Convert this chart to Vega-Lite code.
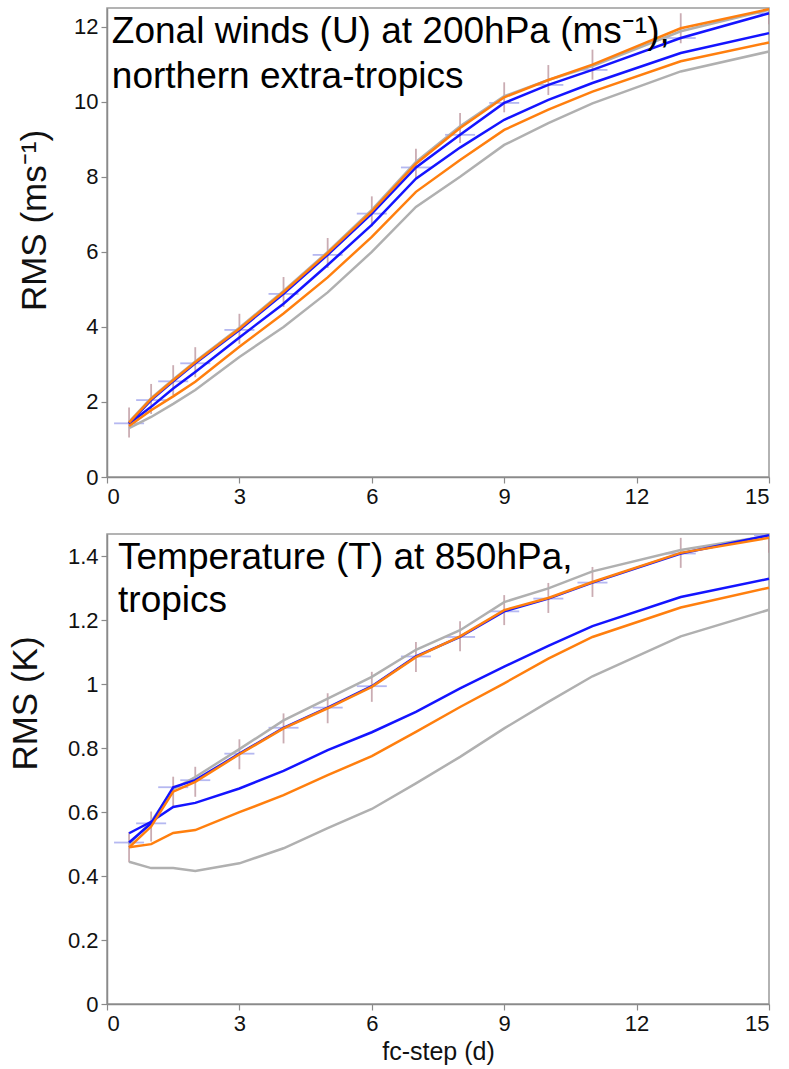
{
 "$schema": "https://vega.github.io/schema/vega-lite/v6.json",
 "background": "white",
 "padding": {"left": 7, "top": 3, "right": 5, "bottom": 4},
 "config": {
  "font": "Liberation Sans",
  "view": {"stroke": "#9a9a9a", "strokeWidth": 1.5},
  "axis": {"grid": false, "domainColor": "#8a8a8a", "domainWidth": 1.5, "tickColor": "#8a8a8a", "tickWidth": 1.2, "tickSize": 6, "labelFontSize": 22, "labelColor": "#111", "labelPadding": 3, "titleFontWeight": "normal", "titleColor": "#111"}
 },
 "spacing": 21,
 "datasets": {
  "u200": [
   {"x":0.5,"run":"ctl","band":"hi","v":1.47},{"x":1,"run":"ctl","band":"hi","v":2.10},{"x":1.5,"run":"ctl","band":"hi","v":2.60},{"x":2,"run":"ctl","band":"hi","v":3.08},{"x":3,"run":"ctl","band":"hi","v":3.98},{"x":4,"run":"ctl","band":"hi","v":4.96},{"x":5,"run":"ctl","band":"hi","v":6.00},{"x":6,"run":"ctl","band":"hi","v":7.12},{"x":7,"run":"ctl","band":"hi","v":8.40},{"x":8,"run":"ctl","band":"hi","v":9.35},{"x":9,"run":"ctl","band":"hi","v":10.15},{"x":10,"run":"ctl","band":"hi","v":10.58},{"x":11,"run":"ctl","band":"hi","v":10.95},{"x":13,"run":"ctl","band":"hi","v":11.88},{"x":15,"run":"ctl","band":"hi","v":12.45},
   {"x":0.5,"run":"ctl","band":"lo","v":1.30},{"x":1,"run":"ctl","band":"lo","v":1.60},{"x":1.5,"run":"ctl","band":"lo","v":1.95},{"x":2,"run":"ctl","band":"lo","v":2.32},{"x":3,"run":"ctl","band":"lo","v":3.20},{"x":4,"run":"ctl","band":"lo","v":4.00},{"x":5,"run":"ctl","band":"lo","v":4.92},{"x":6,"run":"ctl","band":"lo","v":6.00},{"x":7,"run":"ctl","band":"lo","v":7.20},{"x":8,"run":"ctl","band":"lo","v":8.00},{"x":9,"run":"ctl","band":"lo","v":8.85},{"x":10,"run":"ctl","band":"lo","v":9.43},{"x":11,"run":"ctl","band":"lo","v":9.96},{"x":13,"run":"ctl","band":"lo","v":10.81},{"x":15,"run":"ctl","band":"lo","v":11.34},
   {"x":0.5,"run":"a","band":"hi","v":1.43},{"x":1,"run":"a","band":"hi","v":2.05},{"x":1.5,"run":"a","band":"hi","v":2.55},{"x":2,"run":"a","band":"hi","v":3.03},{"x":3,"run":"a","band":"hi","v":3.92},{"x":4,"run":"a","band":"hi","v":4.88},{"x":5,"run":"a","band":"hi","v":5.92},{"x":6,"run":"a","band":"hi","v":7.02},{"x":7,"run":"a","band":"hi","v":8.25},{"x":8,"run":"a","band":"hi","v":9.12},{"x":9,"run":"a","band":"hi","v":9.97},{"x":10,"run":"a","band":"hi","v":10.45},{"x":11,"run":"a","band":"hi","v":10.85},{"x":13,"run":"a","band":"hi","v":11.70},{"x":15,"run":"a","band":"hi","v":12.36},
   {"x":0.5,"run":"a","band":"lo","v":1.42},{"x":1,"run":"a","band":"lo","v":1.87},{"x":1.5,"run":"a","band":"lo","v":2.36},{"x":2,"run":"a","band":"lo","v":2.80},{"x":3,"run":"a","band":"lo","v":3.72},{"x":4,"run":"a","band":"lo","v":4.62},{"x":5,"run":"a","band":"lo","v":5.65},{"x":6,"run":"a","band":"lo","v":6.72},{"x":7,"run":"a","band":"lo","v":7.95},{"x":8,"run":"a","band":"lo","v":8.78},{"x":9,"run":"a","band":"lo","v":9.52},{"x":10,"run":"a","band":"lo","v":10.05},{"x":11,"run":"a","band":"lo","v":10.50},{"x":13,"run":"a","band":"lo","v":11.30},{"x":15,"run":"a","band":"lo","v":11.83},
   {"x":0.5,"run":"b","band":"hi","v":1.45},{"x":1,"run":"b","band":"hi","v":2.08},{"x":1.5,"run":"b","band":"hi","v":2.58},{"x":2,"run":"b","band":"hi","v":3.06},{"x":3,"run":"b","band":"hi","v":3.95},{"x":4,"run":"b","band":"hi","v":4.93},{"x":5,"run":"b","band":"hi","v":5.97},{"x":6,"run":"b","band":"hi","v":7.08},{"x":7,"run":"b","band":"hi","v":8.35},{"x":8,"run":"b","band":"hi","v":9.30},{"x":9,"run":"b","band":"hi","v":10.12},{"x":10,"run":"b","band":"hi","v":10.58},{"x":11,"run":"b","band":"hi","v":10.99},{"x":13,"run":"b","band":"hi","v":11.96},{"x":15,"run":"b","band":"hi","v":12.47},
   {"x":0.5,"run":"b","band":"lo","v":1.36},{"x":1,"run":"b","band":"lo","v":1.78},{"x":1.5,"run":"b","band":"lo","v":2.15},{"x":2,"run":"b","band":"lo","v":2.54},{"x":3,"run":"b","band":"lo","v":3.47},{"x":4,"run":"b","band":"lo","v":4.36},{"x":5,"run":"b","band":"lo","v":5.32},{"x":6,"run":"b","band":"lo","v":6.40},{"x":7,"run":"b","band":"lo","v":7.60},{"x":8,"run":"b","band":"lo","v":8.45},{"x":9,"run":"b","band":"lo","v":9.25},{"x":10,"run":"b","band":"lo","v":9.79},{"x":11,"run":"b","band":"lo","v":10.27},{"x":13,"run":"b","band":"lo","v":11.08},{"x":15,"run":"b","band":"lo","v":11.58}
  ],
  "t850": [
   {"x":0.5,"run":"ctl","band":"hi","v":0.500},{"x":1,"run":"ctl","band":"hi","v":0.570},{"x":1.5,"run":"ctl","band":"hi","v":0.672},{"x":2,"run":"ctl","band":"hi","v":0.710},{"x":3,"run":"ctl","band":"hi","v":0.797},{"x":4,"run":"ctl","band":"hi","v":0.887},{"x":5,"run":"ctl","band":"hi","v":0.955},{"x":6,"run":"ctl","band":"hi","v":1.023},{"x":7,"run":"ctl","band":"hi","v":1.108},{"x":8,"run":"ctl","band":"hi","v":1.169},{"x":9,"run":"ctl","band":"hi","v":1.257},{"x":10,"run":"ctl","band":"hi","v":1.300},{"x":11,"run":"ctl","band":"hi","v":1.353},{"x":13,"run":"ctl","band":"hi","v":1.420},{"x":15,"run":"ctl","band":"hi","v":1.465},
   {"x":0.5,"run":"ctl","band":"lo","v":0.445},{"x":1,"run":"ctl","band":"lo","v":0.425},{"x":1.5,"run":"ctl","band":"lo","v":0.425},{"x":2,"run":"ctl","band":"lo","v":0.416},{"x":3,"run":"ctl","band":"lo","v":0.440},{"x":4,"run":"ctl","band":"lo","v":0.487},{"x":5,"run":"ctl","band":"lo","v":0.550},{"x":6,"run":"ctl","band":"lo","v":0.610},{"x":7,"run":"ctl","band":"lo","v":0.690},{"x":8,"run":"ctl","band":"lo","v":0.773},{"x":9,"run":"ctl","band":"lo","v":0.862},{"x":10,"run":"ctl","band":"lo","v":0.945},{"x":11,"run":"ctl","band":"lo","v":1.025},{"x":13,"run":"ctl","band":"lo","v":1.150},{"x":15,"run":"ctl","band":"lo","v":1.233},
   {"x":0.5,"run":"a","band":"hi","v":0.505},{"x":1,"run":"a","band":"hi","v":0.565},{"x":1.5,"run":"a","band":"hi","v":0.678},{"x":2,"run":"a","band":"hi","v":0.700},{"x":3,"run":"a","band":"hi","v":0.783},{"x":4,"run":"a","band":"hi","v":0.864},{"x":5,"run":"a","band":"hi","v":0.927},{"x":6,"run":"a","band":"hi","v":0.994},{"x":7,"run":"a","band":"hi","v":1.087},{"x":8,"run":"a","band":"hi","v":1.148},{"x":9,"run":"a","band":"hi","v":1.228},{"x":10,"run":"a","band":"hi","v":1.268},{"x":11,"run":"a","band":"hi","v":1.318},{"x":13,"run":"a","band":"hi","v":1.409},{"x":15,"run":"a","band":"hi","v":1.466},
   {"x":0.5,"run":"a","band":"lo","v":0.534},{"x":1,"run":"a","band":"lo","v":0.570},{"x":1.5,"run":"a","band":"lo","v":0.616},{"x":2,"run":"a","band":"lo","v":0.629},{"x":3,"run":"a","band":"lo","v":0.674},{"x":4,"run":"a","band":"lo","v":0.729},{"x":5,"run":"a","band":"lo","v":0.794},{"x":6,"run":"a","band":"lo","v":0.850},{"x":7,"run":"a","band":"lo","v":0.914},{"x":8,"run":"a","band":"lo","v":0.987},{"x":9,"run":"a","band":"lo","v":1.055},{"x":10,"run":"a","band":"lo","v":1.120},{"x":11,"run":"a","band":"lo","v":1.182},{"x":13,"run":"a","band":"lo","v":1.273},{"x":15,"run":"a","band":"lo","v":1.330},
   {"x":0.5,"run":"b","band":"hi","v":0.490},{"x":1,"run":"b","band":"hi","v":0.555},{"x":1.5,"run":"b","band":"hi","v":0.664},{"x":2,"run":"b","band":"hi","v":0.695},{"x":3,"run":"b","band":"hi","v":0.781},{"x":4,"run":"b","band":"hi","v":0.862},{"x":5,"run":"b","band":"hi","v":0.925},{"x":6,"run":"b","band":"hi","v":0.992},{"x":7,"run":"b","band":"hi","v":1.085},{"x":8,"run":"b","band":"hi","v":1.150},{"x":9,"run":"b","band":"hi","v":1.232},{"x":10,"run":"b","band":"hi","v":1.270},{"x":11,"run":"b","band":"hi","v":1.320},{"x":13,"run":"b","band":"hi","v":1.411},{"x":15,"run":"b","band":"hi","v":1.458},
   {"x":0.5,"run":"b","band":"lo","v":0.490},{"x":1,"run":"b","band":"lo","v":0.500},{"x":1.5,"run":"b","band":"lo","v":0.535},{"x":2,"run":"b","band":"lo","v":0.544},{"x":3,"run":"b","band":"lo","v":0.600},{"x":4,"run":"b","band":"lo","v":0.653},{"x":5,"run":"b","band":"lo","v":0.716},{"x":6,"run":"b","band":"lo","v":0.775},{"x":7,"run":"b","band":"lo","v":0.851},{"x":8,"run":"b","band":"lo","v":0.929},{"x":9,"run":"b","band":"lo","v":1.003},{"x":10,"run":"b","band":"lo","v":1.080},{"x":11,"run":"b","band":"lo","v":1.148},{"x":13,"run":"b","band":"lo","v":1.240},{"x":15,"run":"b","band":"lo","v":1.302}
  ]
 },
 "vconcat": [
  {
   "width": 662, "height": 469,
   "layer": [
    {"data": {"name": "u200"}, "transform": [{"filter": "datum.run === 'a' && datum.band === 'hi'"}], "mark": {"type": "point", "shape": "M-1,0H1", "size": 900, "filled": false, "strokeWidth": 1.8, "color": "#a3a7ee", "opacity": 0.8, "clip": true},
     "encoding": {
      "x": {"field": "x", "type": "quantitative", "scale": {"domain": [0, 15], "nice": false}, "axis": {"values": [0, 3, 6, 9, 12, 15], "title": null}},
      "y": {"field": "v", "type": "quantitative", "scale": {"domain": [0, 12.5], "nice": false}, "axis": {"values": [0, 2, 4, 6, 8, 10, 12], "title": "RMS (ms⁻¹)", "titleFontSize": 35, "titlePadding": 21, "titleY": 212}}
     }},
    {"data": {"name": "u200"}, "transform": [{"filter": "datum.run === 'b' && datum.band === 'hi'"}], "mark": {"type": "point", "shape": "M0,-1V1", "size": 900, "filled": false, "strokeWidth": 1.8, "color": "#b58a93", "opacity": 0.7, "clip": true},
     "encoding": {
      "x": {"field": "x", "type": "quantitative", "scale": {"domain": [0, 15], "nice": false}, "axis": {"values": [0, 3, 6, 9, 12, 15], "title": null}},
      "y": {"field": "v", "type": "quantitative", "scale": {"domain": [0, 12.5], "nice": false}, "axis": {"values": [0, 2, 4, 6, 8, 10, 12], "title": "RMS (ms⁻¹)", "titleFontSize": 35, "titlePadding": 21, "titleY": 212}}
     }},
    {"data": {"name": "u200"}, "transform": [{"filter": "datum.run === 'ctl'"}], "mark": {"type": "line", "color": "#b0b0b0", "strokeWidth": 2.5},
     "encoding": {
      "x": {"field": "x", "type": "quantitative", "scale": {"domain": [0, 15], "nice": false}, "axis": {"values": [0, 3, 6, 9, 12, 15], "title": null}},
      "y": {"field": "v", "type": "quantitative", "scale": {"domain": [0, 12.5], "nice": false}, "axis": {"values": [0, 2, 4, 6, 8, 10, 12], "title": "RMS (ms⁻¹)", "titleFontSize": 35, "titlePadding": 21, "titleY": 212}},
      "detail": {"field": "band"}
     }},
    {"data": {"name": "u200"}, "transform": [{"filter": "datum.run === 'a'"}], "mark": {"type": "line", "color": "#1414ff", "strokeWidth": 2.5},
     "encoding": {
      "x": {"field": "x", "type": "quantitative", "scale": {"domain": [0, 15], "nice": false}, "axis": {"values": [0, 3, 6, 9, 12, 15], "title": null}},
      "y": {"field": "v", "type": "quantitative", "scale": {"domain": [0, 12.5], "nice": false}, "axis": {"values": [0, 2, 4, 6, 8, 10, 12], "title": "RMS (ms⁻¹)", "titleFontSize": 35, "titlePadding": 21, "titleY": 212}},
      "detail": {"field": "band"}
     }},
    {"data": {"name": "u200"}, "transform": [{"filter": "datum.run === 'b'"}], "mark": {"type": "line", "color": "#ff7f0e", "strokeWidth": 2.5},
     "encoding": {
      "x": {"field": "x", "type": "quantitative", "scale": {"domain": [0, 15], "nice": false}, "axis": {"values": [0, 3, 6, 9, 12, 15], "title": null}},
      "y": {"field": "v", "type": "quantitative", "scale": {"domain": [0, 12.5], "nice": false}, "axis": {"values": [0, 2, 4, 6, 8, 10, 12], "title": "RMS (ms⁻¹)", "titleFontSize": 35, "titlePadding": 21, "titleY": 212}},
      "detail": {"field": "band"}
     }},
    {"data": {"values": [{"label": "Zonal winds (U) at 200hPa (ms⁻¹),\nnorthern extra-tropics"}]}, "mark": {"type": "text", "align": "left", "baseline": "alphabetic", "fontSize": 37, "lineHeight": 45, "lineBreak": "\n", "color": "#000"},
     "encoding": {
      "text": {"field": "label", "type": "nominal"},
      "x": {"datum": 0.11, "type": "quantitative", "scale": {"domain": [0, 15], "nice": false}, "axis": {"values": [0, 3, 6, 9, 12, 15], "title": null}},
      "y": {"datum": 11.57, "type": "quantitative", "scale": {"domain": [0, 12.5], "nice": false}, "axis": {"values": [0, 2, 4, 6, 8, 10, 12], "title": "RMS (ms⁻¹)", "titleFontSize": 35, "titlePadding": 21, "titleY": 212}}
     }}
   ]
  },
  {
   "width": 662, "height": 470,
   "layer": [
    {"data": {"name": "t850"}, "transform": [{"filter": "datum.run === 'a' && datum.band === 'hi'"}], "mark": {"type": "point", "shape": "M-1,0H1", "size": 900, "filled": false, "strokeWidth": 1.8, "color": "#a3a7ee", "opacity": 0.8, "clip": true},
     "encoding": {
      "x": {"field": "x", "type": "quantitative", "scale": {"domain": [0, 15], "nice": false}, "axis": {"values": [0, 3, 6, 9, 12, 15], "title": "fc-step (d)", "titleFontSize": 25, "titlePadding": 5}},
      "y": {"field": "v", "type": "quantitative", "scale": {"domain": [0, 1.47], "nice": false}, "axis": {"values": [0, 0.2, 0.4, 0.6, 0.8, 1, 1.2, 1.4], "format": "~g", "title": "RMS (K)", "titleFontSize": 35, "titlePadding": 24, "titleY": 169}}
     }},
    {"data": {"name": "t850"}, "transform": [{"filter": "datum.run === 'b' && datum.band === 'hi'"}], "mark": {"type": "point", "shape": "M0,-1V1", "size": 900, "filled": false, "strokeWidth": 1.8, "color": "#b58a93", "opacity": 0.7, "clip": true},
     "encoding": {
      "x": {"field": "x", "type": "quantitative", "scale": {"domain": [0, 15], "nice": false}, "axis": {"values": [0, 3, 6, 9, 12, 15], "title": "fc-step (d)", "titleFontSize": 25, "titlePadding": 5}},
      "y": {"field": "v", "type": "quantitative", "scale": {"domain": [0, 1.47], "nice": false}, "axis": {"values": [0, 0.2, 0.4, 0.6, 0.8, 1, 1.2, 1.4], "format": "~g", "title": "RMS (K)", "titleFontSize": 35, "titlePadding": 24, "titleY": 169}}
     }},
    {"data": {"name": "t850"}, "transform": [{"filter": "datum.run === 'ctl'"}], "mark": {"type": "line", "color": "#b0b0b0", "strokeWidth": 2.5},
     "encoding": {
      "x": {"field": "x", "type": "quantitative", "scale": {"domain": [0, 15], "nice": false}, "axis": {"values": [0, 3, 6, 9, 12, 15], "title": "fc-step (d)", "titleFontSize": 25, "titlePadding": 5}},
      "y": {"field": "v", "type": "quantitative", "scale": {"domain": [0, 1.47], "nice": false}, "axis": {"values": [0, 0.2, 0.4, 0.6, 0.8, 1, 1.2, 1.4], "format": "~g", "title": "RMS (K)", "titleFontSize": 35, "titlePadding": 24, "titleY": 169}},
      "detail": {"field": "band"}
     }},
    {"data": {"name": "t850"}, "transform": [{"filter": "datum.run === 'a'"}], "mark": {"type": "line", "color": "#1414ff", "strokeWidth": 2.5},
     "encoding": {
      "x": {"field": "x", "type": "quantitative", "scale": {"domain": [0, 15], "nice": false}, "axis": {"values": [0, 3, 6, 9, 12, 15], "title": "fc-step (d)", "titleFontSize": 25, "titlePadding": 5}},
      "y": {"field": "v", "type": "quantitative", "scale": {"domain": [0, 1.47], "nice": false}, "axis": {"values": [0, 0.2, 0.4, 0.6, 0.8, 1, 1.2, 1.4], "format": "~g", "title": "RMS (K)", "titleFontSize": 35, "titlePadding": 24, "titleY": 169}},
      "detail": {"field": "band"}
     }},
    {"data": {"name": "t850"}, "transform": [{"filter": "datum.run === 'b'"}], "mark": {"type": "line", "color": "#ff7f0e", "strokeWidth": 2.5},
     "encoding": {
      "x": {"field": "x", "type": "quantitative", "scale": {"domain": [0, 15], "nice": false}, "axis": {"values": [0, 3, 6, 9, 12, 15], "title": "fc-step (d)", "titleFontSize": 25, "titlePadding": 5}},
      "y": {"field": "v", "type": "quantitative", "scale": {"domain": [0, 1.47], "nice": false}, "axis": {"values": [0, 0.2, 0.4, 0.6, 0.8, 1, 1.2, 1.4], "format": "~g", "title": "RMS (K)", "titleFontSize": 35, "titlePadding": 24, "titleY": 169}},
      "detail": {"field": "band"}
     }},
    {"data": {"values": [{"label": "Temperature (T) at 850hPa,\ntropics"}]}, "mark": {"type": "text", "align": "left", "baseline": "alphabetic", "fontSize": 37, "lineHeight": 43, "lineBreak": "\n", "color": "#000"},
     "encoding": {
      "text": {"field": "label", "type": "nominal"},
      "x": {"datum": 0.25, "type": "quantitative", "scale": {"domain": [0, 15], "nice": false}, "axis": {"values": [0, 3, 6, 9, 12, 15], "title": "fc-step (d)", "titleFontSize": 25, "titlePadding": 5}},
      "y": {"datum": 1.359, "type": "quantitative", "scale": {"domain": [0, 1.47], "nice": false}, "axis": {"values": [0, 0.2, 0.4, 0.6, 0.8, 1, 1.2, 1.4], "format": "~g", "title": "RMS (K)", "titleFontSize": 35, "titlePadding": 24, "titleY": 169}}
     }}
   ]
  }
 ]
}
